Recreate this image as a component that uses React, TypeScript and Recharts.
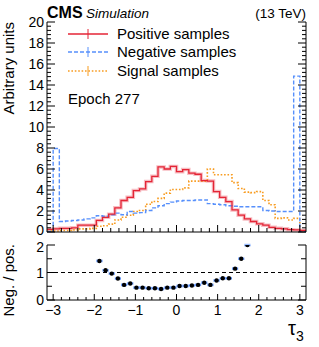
import { ComposedChart, ErrorBar, Line, ReferenceLine, Scatter, XAxis, YAxis } from 'recharts'

// 42 bins of tau_3, from -3.15 to 3.15
const BIN_LO = -3.15
const BIN_W = 0.15

const positive = [
  0.25, 0.3, 0.35, 0.35, 0.4, 0.65, 0.65, 0.65, 1.1, 1.4, 1.7, 2.3, 3.0, 3.3,
  3.95, 4.1, 4.8, 5.3, 6.2, 6.0, 6.25, 5.75, 5.95, 5.6, 5.5, 4.9, 4.85, 3.85,
  3.3, 2.9, 2.1, 1.6, 1.25, 1.0, 0.78, 0.65, 0.45, 0.35, 0.3, 0.22, 0.2, 0.15,
]
const negative = [
  0.05, 7.95, 1.0, 1.05, 1.1, 1.15, 1.25, 1.35, 1.55, 1.5, 1.65, 1.8, 1.65, 1.95,
  1.8, 1.85, 2.05, 2.3, 2.5, 2.7, 2.85, 2.95, 3.0, 3.0, 3.05, 3.05, 2.7, 2.65,
  2.6, 2.5, 2.45, 2.4, 2.4, 2.4, 2.4, 2.05, 2.0, 1.95, 1.95, 1.95, 14.85, 0.05,
]
const signal = [
  0.1, 0.1, 0.15, 0.15, 0.2, 0.3, 0.3, 0.35, 0.55, 0.6, 0.75, 1.15, 1.4, 1.6,
  1.95, 2.05, 2.65, 2.9, 3.2, 3.7, 4.05, 4.05, 4.2, 4.85, 4.85, 4.85, 6.0, 5.45,
  5.45, 5.45, 4.7, 4.15, 3.8, 3.75, 3.85, 3.0, 2.6, 1.3, 1.35, 1.15, 1.3, 0.1,
]

// neg / pos, shown from bin 8 on (others fall outside 0..2)
const RATIO_FIRST_BIN = 8
const ratio = [
  1.42, 1.08, 0.96, 0.78, 0.55, 0.6, 0.45, 0.45, 0.43, 0.43, 0.4, 0.45, 0.45,
  0.51, 0.51, 0.53, 0.55, 0.63, 0.55, 0.71, 0.79, 0.79, 1.14, 1.5, 2.0,
]

const xMajor = [-3, -2, -1, 0, 1, 2, 3]
const yMajorTop = [0, 2, 4, 6, 8, 10, 12, 14, 16, 18, 20]
const yMajorRatio = [0, 1, 2]

const RED = '#e42536'
const BLUE = '#5790fc'
const ORANGE = '#f89c20'
const FONT = '"Liberation Sans", Arial, Helvetica, sans-serif'

const steps = (lo: number, hi: number, step: number) => {
  const out: number[] = []
  for (let v = lo; v <= hi + 1e-9; v += step) out.push(Math.round(v * 100) / 100)
  return out
}

const xTicks = steps(-3, 3, 0.2)
const yTicksTop = steps(0, 20, 0.4)
const yTicksRatio = steps(0, 2, 0.5)

const histRows = positive.map((p, i) => ({
  x: BIN_LO + i * BIN_W,
  pos: p,
  neg: negative[i],
  sig: signal[i],
}))
histRows.push({
  x: BIN_LO + positive.length * BIN_W,
  pos: positive[positive.length - 1],
  neg: negative[negative.length - 1],
  sig: signal[signal.length - 1],
})

const ratioRows = ratio.map((r, i) => ({
  x: BIN_LO + (RATIO_FIRST_BIN + i + 0.5) * BIN_W,
  r,
  xe: BIN_W / 2,
}))

const fmt = (v: number) => (v < 0 ? `\u2212${Math.abs(v)}` : `${v}`)

function FrameTick(props: any) {
  const { x, y, payload, side, majors, majorLen, minorLen, showLabels, labelShift } = props
  const v = payload.value
  const major = majors.some((m: number) => Math.abs(m - v) < 1e-6)
  const len = major ? majorLen : minorLen
  let x2 = x
  let y2 = y
  if (side === 'bottom') y2 = y - len
  if (side === 'top') y2 = y + len
  if (side === 'left') x2 = x + len
  if (side === 'right') x2 = x - len
  let label = null
  if (showLabels && major) {
    if (side === 'bottom')
      label = (
        <text x={x} y={y + 15} textAnchor="middle" fontSize={14} fill="#000" fontFamily={FONT}>
          {fmt(v)}
        </text>
      )
    if (side === 'left') {
      // nudge the labels where the two pads meet so they do not collide
      const dy = labelShift && labelShift[String(v)] !== undefined ? labelShift[String(v)] : 5
      label = (
        <text x={x - 3} y={y + dy} textAnchor="end" fontSize={14} fill="#000" fontFamily={FONT}>
          {fmt(v)}
        </text>
      )
    }
  }
  return (
    <g>
      <line x1={x} y1={y} x2={x2} y2={y2} stroke="#000" strokeWidth={1} />
      {label}
    </g>
  )
}

const axisBase = {
  tickLine: false,
  tickSize: 0,
  tickMargin: 0,
  interval: 0 as const,
  axisLine: { stroke: '#000', strokeWidth: 1 },
  allowDataOverflow: true,
}

function TopPad() {
  return (
    <ComposedChart width={319} height={240} data={histRows} margin={{ top: 22, right: 0, bottom: 0, left: 0 }}>
      <XAxis
        {...axisBase}
        dataKey="x"
        type="number"
        domain={[-3.15, 3.15]}
        ticks={xTicks}
        height={8}
        tick={<FrameTick side="bottom" majors={xMajor} majorLen={7} minorLen={4} showLabels={false} />}
      />
      <XAxis
        {...axisBase}
        xAxisId="t"
        orientation="top"
        dataKey="x"
        type="number"
        domain={[-3.15, 3.15]}
        ticks={xTicks}
        height={0}
        tick={<FrameTick side="top" majors={xMajor} majorLen={7} minorLen={4} showLabels={false} />}
      />
      <YAxis
        {...axisBase}
        type="number"
        domain={[0, 20]}
        ticks={yTicksTop}
        width={47}
        tick={<FrameTick side="left" majors={yMajorTop} majorLen={8} minorLen={4} showLabels labelShift={{ '0': 2.5 }} />}
      />
      <YAxis
        {...axisBase}
        yAxisId="r"
        orientation="right"
        type="number"
        domain={[0, 20]}
        ticks={yTicksTop}
        width={13}
        tick={<FrameTick side="right" majors={yMajorTop} majorLen={8} minorLen={4} showLabels={false} />}
      />
      <Line dataKey="pos" type="stepAfter" stroke={RED} strokeOpacity={0.3} strokeWidth={3.5} dot={false} isAnimationActive={false} />
      <Line dataKey="sig" type="stepAfter" stroke={ORANGE} strokeWidth={1.6} strokeDasharray="1.6 1.8" dot={false} isAnimationActive={false} />
      <Line dataKey="neg" type="stepAfter" stroke={BLUE} strokeWidth={1.4} strokeDasharray="4 2" dot={false} isAnimationActive={false} />
      <Line dataKey="pos" type="stepAfter" stroke={RED} strokeWidth={1.3} dot={false} isAnimationActive={false} />
    </ComposedChart>
  )
}

function RatioPad() {
  return (
    <ComposedChart width={319} height={115} margin={{ top: 13, right: 0, bottom: 0, left: 0 }}>
      <XAxis
        {...axisBase}
        dataKey="x"
        type="number"
        domain={[-3.15, 3.15]}
        ticks={xTicks}
        height={47}
        tick={<FrameTick side="bottom" majors={xMajor} majorLen={6} minorLen={3} showLabels />}
      />
      <XAxis
        {...axisBase}
        xAxisId="t"
        orientation="top"
        dataKey="x"
        type="number"
        domain={[-3.15, 3.15]}
        ticks={xTicks}
        height={0}
        tick={<FrameTick side="top" majors={xMajor} majorLen={6} minorLen={3} showLabels={false} />}
      />
      <YAxis
        {...axisBase}
        type="number"
        domain={[0, 2]}
        ticks={yTicksRatio}
        width={47}
        tick={<FrameTick side="left" majors={yMajorRatio} majorLen={8} minorLen={5} showLabels labelShift={{ '2': 6.5 }} />}
      />
      <YAxis
        {...axisBase}
        yAxisId="r"
        orientation="right"
        type="number"
        domain={[0, 2]}
        ticks={yTicksRatio}
        width={13}
        tick={<FrameTick side="right" majors={yMajorRatio} majorLen={8} minorLen={5} showLabels={false} />}
      />
      <ReferenceLine y={1} stroke="#000" strokeWidth={1} strokeDasharray="4 3" />
      <Scatter
        data={ratioRows}
        dataKey="r"
        isAnimationActive={false}
        shape={(p: any) => (
          <g>
            <line x1={p.cx - 3} x2={p.cx + 3} y1={p.cy} y2={p.cy} stroke={BLUE} strokeOpacity={0.6} strokeWidth={2.5} />
            <circle cx={p.cx} cy={p.cy} r={2.2} fill="#000" />
          </g>
        )}
      >
        <ErrorBar dataKey="xe" direction="x" width={0} stroke={BLUE} strokeOpacity={0.6} strokeWidth={2.5} />
      </Scatter>
    </ComposedChart>
  )
}

const legendItems = [
  { label: 'Positive samples', color: RED, dash: undefined, y: 34 },
  { label: 'Negative samples', color: BLUE, dash: '4 2', y: 52 },
  { label: 'Signal samples', color: ORANGE, dash: '1.6 1.8', y: 71 },
]

function Annotations() {
  return (
    <svg width={319} height={347} style={{ position: 'absolute', left: 0, top: 0, pointerEvents: 'none' }}>
      <g fontFamily={FONT} fill="#000">
        <text x={47} y={18} fontSize={16} fontWeight="bold">CMS</text>
        <text x={86} y={18} fontSize={13.5} fontStyle="italic">Simulation</text>
        <text x={306} y={18} fontSize={13.5} textAnchor="end">(13 TeV)</text>
        <text transform="translate(13.5,22) rotate(-90)" fontSize={15} textAnchor="end">Arbitrary units</text>
        <text transform="translate(13.5,244) rotate(-90)" fontSize={15} textAnchor="end">Neg. / pos.</text>
        {legendItems.map((it) => (
          <g key={it.label}>
            <line x1={68} x2={108} y1={it.y} y2={it.y} stroke={it.color} strokeWidth={1.4} strokeDasharray={it.dash} />
            <line x1={88} x2={88} y1={it.y - 5} y2={it.y + 5} stroke={it.color} strokeWidth={1} />
            <text x={117} y={it.y + 5} fontSize={15}>{it.label}</text>
          </g>
        ))}
        <text x={68} y={104} fontSize={15}>Epoch 277</text>
        <text x={288} y={335} fontSize={20}>
          τ<tspan fontSize={14} dy={6}>3</tspan>
        </text>
      </g>
    </svg>
  )
}

export default function App() {
  return (
    <div style={{ position: 'absolute', left: 0, top: 0, width: 319, height: 347, background: '#fff' }}>
      <div style={{ position: 'absolute', left: 0, top: 0 }}>
        <TopPad />
      </div>
      <div style={{ position: 'absolute', left: 0, top: 232 }}>
        <RatioPad />
      </div>
      <Annotations />
    </div>
  )
}
